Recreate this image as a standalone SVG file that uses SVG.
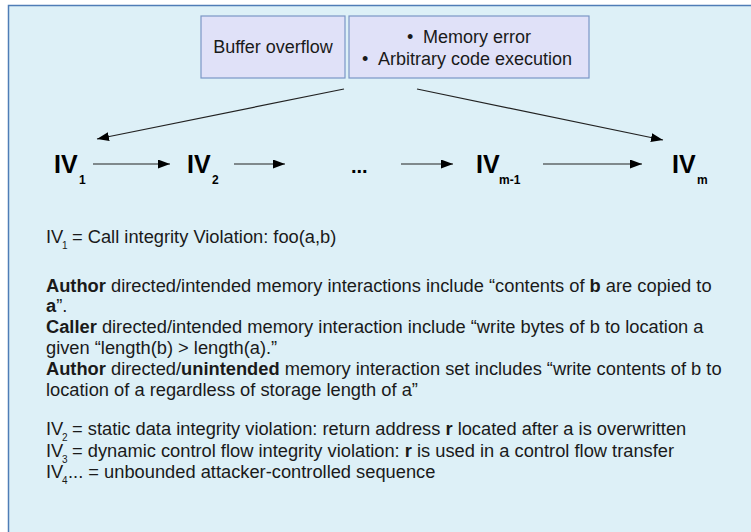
<svg xmlns="http://www.w3.org/2000/svg" width="751" height="532" viewBox="0 0 751 532">
<defs>
<marker id="ah" markerWidth="12" markerHeight="9" refX="12" refY="4.5" orient="auto" markerUnits="userSpaceOnUse">
<path d="M0,0 L12,4.5 L0,9 Z" fill="#000"/>
</marker>
<style>
.box{fill:#e0e1f8;stroke:#7b97c6;stroke-width:1.2}
.bt{font-family:"Liberation Sans",Arial,sans-serif;font-size:18px;fill:#1a1a1a}
.iv{font-family:"Liberation Sans",Arial,sans-serif;font-size:25px;font-weight:bold;fill:#000}
.ivs{font-family:"Liberation Sans",Arial,sans-serif;font-size:12px;font-weight:bold;fill:#000}
.tx{font-family:"Liberation Sans",Arial,sans-serif;font-size:18.3px;fill:#1a1a1a}
.sub{font-size:10px}
.b{font-weight:bold}
.conn{stroke:#222;stroke-width:1.2;fill:none}
</style>
</defs>
<rect x="0" y="0" width="751" height="532" fill="#fff"/>
<rect x="8.5" y="5.5" width="760" height="540" fill="#ddf0f7" stroke="#4f7db6" stroke-width="1.5"/>

<g id="buffer-overflow">
<rect class="box" x="201" y="16" width="144" height="62"/>
<text class="bt" x="273" y="53" text-anchor="middle">Buffer overflow</text>
</g>
<g id="consequences">
<rect class="box" x="349" y="16" width="240" height="62"/>
<text class="bt" x="407" y="43">•</text>
<text class="bt" x="423" y="43">Memory error</text>
<text class="bt" x="362" y="65">•</text>
<text class="bt" x="378" y="65">Arbitrary code execution</text>
</g>

<g id="iv1"><text class="iv" x="54" y="173">IV</text><text class="ivs" x="79" y="184">1</text></g>
<g id="iv2"><text class="iv" x="187" y="173">IV</text><text class="ivs" x="212" y="184">2</text></g>
<g id="ellipsis"><text class="iv" x="351" y="173" style="font-size:20px">...</text></g>
<g id="ivm1"><text class="iv" x="476" y="173">IV</text><text class="ivs" x="499" y="184">m-1</text></g>
<g id="ivm"><text class="iv" x="672" y="173">IV</text><text class="ivs" x="697" y="184">m</text></g>

<g id="connectors">
<line class="conn" x1="344" y1="89" x2="97" y2="139" marker-end="url(#ah)"/>
<line class="conn" x1="417" y1="89" x2="663" y2="140" marker-end="url(#ah)"/>
<line class="conn" x1="93" y1="164" x2="170" y2="164" marker-end="url(#ah)"/>
<line class="conn" x1="234" y1="164" x2="285" y2="164" marker-end="url(#ah)"/>
<line class="conn" x1="401" y1="164" x2="453" y2="164" marker-end="url(#ah)"/>
<line class="conn" x1="543" y1="164" x2="642" y2="164" marker-end="url(#ah)"/>
</g>

<g id="notes">
<text class="tx" x="46" y="243">IV<tspan class="sub" x="62" dy="6">1</tspan><tspan x="72" dy="-6">= Call integrity Violation: foo(a,b)</tspan></text>
<text class="tx" x="46" y="292"><tspan class="b">Author</tspan> directed/intended memory interactions include “contents of <tspan class="b">b</tspan> are copied to</text>
<text class="tx" x="46" y="312"><tspan class="b">a</tspan>”.</text>
<text class="tx" x="46" y="333"><tspan class="b">Caller</tspan> directed/intended memory interaction include “write bytes of b to location a</text>
<text class="tx" x="46" y="354">given “length(b) &gt; length(a).”</text>
<text class="tx" x="46" y="375"><tspan class="b">Author</tspan> directed/<tspan class="b">unintended</tspan> memory interaction set includes “write contents of b to</text>
<text class="tx" x="46" y="396">location of a regardless of storage length of a”</text>
<text class="tx" x="46" y="435">IV<tspan class="sub" x="62" dy="6">2</tspan><tspan x="72" dy="-6">= static data integrity violation: return address <tspan class="b">r</tspan> located after a is overwritten</tspan></text>
<text class="tx" x="46" y="457">IV<tspan class="sub" x="62" dy="6">3</tspan><tspan x="72" dy="-6">= dynamic control flow integrity violation: <tspan class="b">r</tspan> is used in a control flow transfer</tspan></text>
<text class="tx" x="46" y="478">IV<tspan class="sub" x="62" dy="6">4</tspan><tspan x="68" dy="-6">... = unbounded attacker-controlled sequence</tspan></text>
</g>
</svg>
